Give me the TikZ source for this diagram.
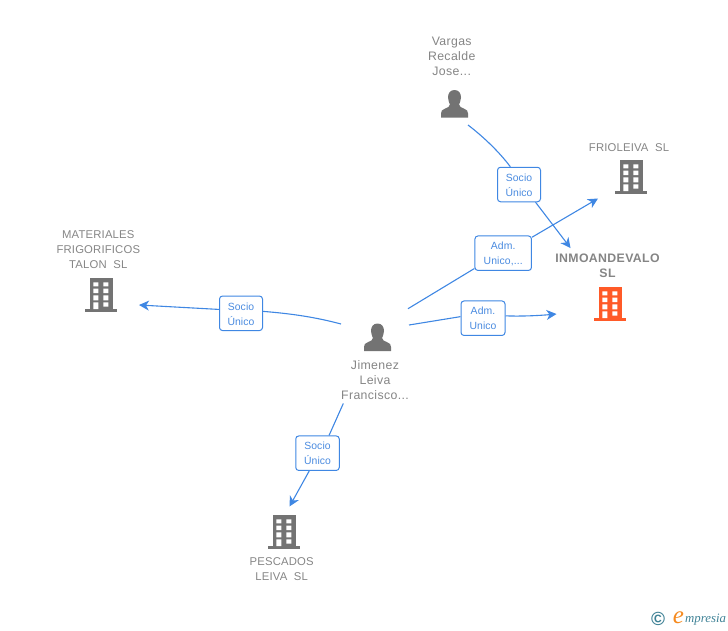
\documentclass[tikz,border=0pt]{standalone}
\usepackage{fontspec}
\setmainfont{Liberation Sans}
\newfontfamily\logofont{Liberation Serif}
\newfontfamily\capsfont[LetterSpace=1.5]{Liberation Sans}
\newfontfamily\lowerfont[LetterSpace=3]{Liberation Sans}
\newfontfamily\boldspaced[LetterSpace=3]{Liberation Sans Bold}
\newfontfamily\tagfont[LetterSpace=1]{Liberation Sans}
\usetikzlibrary{arrows.meta}
\definecolor{linkblue}{HTML}{3F87E3}
\definecolor{labelblue}{HTML}{4A8BE0}
\definecolor{txtgray}{HTML}{858585}
\definecolor{icongray}{HTML}{737373}
\definecolor{mainorange}{HTML}{FF5A28}
\definecolor{logoteal}{HTML}{3F8296}
\definecolor{logoorange}{HTML}{F58A1F}
\tikzset{
  x=1pt,y=-1pt,
  two rules/.style={execute at begin node=\rule{0pt}{12.8pt},execute at end node=\rule[-2pt]{0pt}{2pt}},
  firm text/.style={text=txtgray,align=center,inner sep=0pt,two rules,
    font=\capsfont\fontsize{11.3}{15}\selectfont},
  person text/.style={text=txtgray,align=center,inner sep=0pt,two rules,
    font=\lowerfont\fontsize{12.3}{15}\selectfont},
  main text/.style={text=txtgray,align=center,inner sep=0pt,two rules,
    font=\boldspaced\fontsize{12.3}{15}\selectfont},
  linkbox/.style={draw=linkblue,line width=1pt,rounded corners=3pt,fill=white,
    text=labelblue,align=center,inner sep=0pt,minimum height=34.5pt,
    execute at begin node=\rule{0pt}{25.5pt},execute at end node=\rule[-2pt]{0pt}{2pt},
    font=\tagfont\fontsize{10.4}{15}\selectfont},
  link/.style={draw=linkblue,line width=1.1pt},
  tip/.style={link,-{Stealth[length=10pt,width=10pt,inset=3pt]}},
  bld/.pic={
    \fill[pic actions] (-11,0) rectangle (11.5,31);
    \fill[pic actions] (-16,30.5) rectangle (16,34);
    \fill[white] (-7.7,4.3) rectangle (-2.7,8.3) (2.3,4.3) rectangle (7.3,8.3)
      (-7.7,10.7) rectangle (-2.7,15) (2.3,10.7) rectangle (7.3,15)
      (-7.7,17.3) rectangle (-2.7,22.3) (2.3,17.3) rectangle (7.3,22.3)
      (-7.7,24.3) rectangle (-2.7,31) (2.3,24.3) rectangle (7.3,28.6);
  },
  psn/.pic={
    \fill[pic actions] (0,0) .. controls (4.5,0) and (6.5,3.5) .. (6.5,7.5)
      .. controls (6.5,10.5) and (5,13) .. (4.6,14.5) .. controls (4.4,16.5) and (7,17.8) .. (9.5,18.6)
      .. controls (12.5,19.6) and (13.5,21) .. (13.5,23.5) -- (13.5,27.5) -- (-13.5,27.5) -- (-13.5,23.5)
      .. controls (-13.5,21) and (-12.5,19.6) .. (-9.5,18.6) .. controls (-7,17.8) and (-4.4,16.5) .. (-4.6,14.5)
      .. controls (-5,13) and (-6.5,10.5) .. (-6.5,7.5) .. controls (-6.5,3.5) and (-4.5,0) .. (0,0) -- cycle;
  }
}
\begin{document}
\begin{tikzpicture}
\useasboundingbox (0,0) rectangle (728,630);
% names
\node[person text] (tVargas) at (451.7,57.2) {Vargas\\Recalde\\Jose...};
\node[person text] (tJimenez) at (375,381.2) {Jimenez\\Leiva\\Francisco...};
\node[firm text] (tMat) at (98.3,250.5) {MATERIALES\\FRIGORIFICOS\\TALON\ \ SL};
\node[firm text] (tFrio) at (629,146) {FRIOLEIVA\ \ SL};
\node[main text] (tInmo) at (607.5,266.5) {INMOANDEVALO\\SL};
\node[firm text] (tPesc) at (281.7,570.3) {PESCADOS\\LEIVA\ \ SL};
% icons
\pic[fill=icongray] (iVargas) at (454.5,90) {psn};
\pic[fill=icongray] (iJimenez) at (377.5,323.5) {psn};
\pic[fill=icongray] (iFrio) at (631,160) {bld};
\pic[fill=mainorange] (iInmo) at (610,287) {bld};
\pic[fill=icongray] (iMat) at (101,278) {bld};
\pic[fill=icongray] (iPesc) at (284,515) {bld};
% relation labels
\node[linkbox,minimum width=43pt] (lVargas) at (519,184.5) {Socio\\Único};
\node[linkbox,minimum width=56.5pt] (lFrio) at (503.2,253.2) {Adm.\\Unico,...};
\node[linkbox,minimum width=44pt] (lInmo) at (483,318.2) {Adm.\\Unico};
\node[linkbox,minimum width=43pt] (lMat) at (241,313.3) {Socio\\Único};
\node[linkbox,minimum width=43.5pt] (lPesc) at (317.5,453.2) {Socio\\Único};
% free ends
\coordinate (sVargas) at (468,125);
\coordinate (eVargas) at (570.5,248);
\coordinate (sFrio) at (408,308.7);
\coordinate (eFrio) at (598,198.5);
\coordinate (sInmo) at (409,325);
\coordinate (eInmo) at (556.5,314);
\coordinate (sMat) at (341,324);
\coordinate (eMat) at (139,305);
\coordinate (sPesc) at (343.3,403.5);
\coordinate (ePesc) at (289.5,506.5);
% connectors
\draw[link] (sVargas) .. controls (485,138) and (500,153) .. (lVargas.116);
\draw[tip] (lVargas.-47) -- (eVargas);
\draw[link] (sFrio) -- (lFrio.208);
\draw[tip] (lFrio.29) -- (eFrio);
\draw[link] (sInmo) -- (lInmo.176);
\draw[tip] (lInmo.6) .. controls (522,316.5) and (540,315.5) .. (eInmo);
\draw[link] (sMat) .. controls (315,317) and (290,313.5) .. (lMat.5);
\draw[tip] (lMat.170) -- (eMat);
\draw[link] (sPesc) -- (lPesc.57);
\draw[tip] (lPesc.-115) -- (ePesc);
% logo
\node[inner sep=0pt,text=logoteal,font=\bfseries\fontsize{19}{19}\selectfont] (logoC) at (658,619) {©};
\node[inner sep=0pt,text=logoorange,font=\logofont\itshape\fontsize{25}{25}\selectfont] (logoE) at (678.5,618) {e};
\node[inner sep=0pt,text=logoteal,anchor=west,font=\logofont\itshape\fontsize{12.8}{14}\selectfont] (logoT) at (685,619.5) {mpresia};
\end{tikzpicture}
\end{document}
